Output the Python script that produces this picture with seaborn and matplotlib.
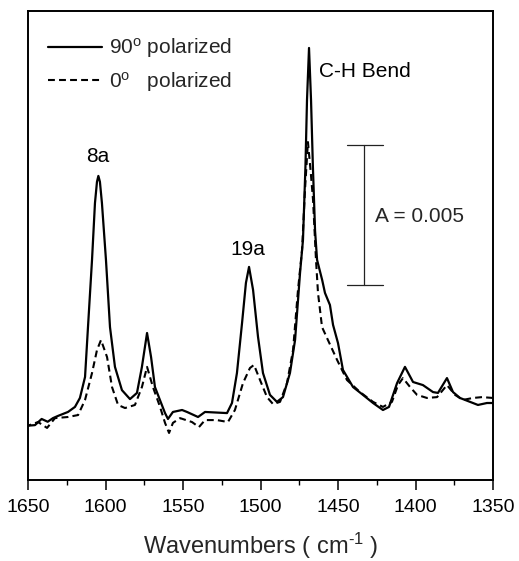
import matplotlib
matplotlib.use("Agg")
import matplotlib.pyplot as plt
import seaborn as sns
import pandas as pd
import numpy as np

# ---- data (absorbance in units of 1e-3, arbitrary baseline) ----
wn_90 = [1650.0, 1645.5, 1641.2, 1637.3, 1633.9, 1630.6, 1624.2, 1619.7, 1616.5, 1613.2,
         1611.3, 1608.7, 1606.8, 1605.5, 1604.6, 1603.6, 1602.3, 1599.7, 1597.1, 1593.9,
         1589.4, 1584.2, 1579.7, 1576.5, 1573.2, 1570.6, 1568.1, 1564.9, 1561.6, 1559.7,
         1556.5, 1550.6, 1547.4, 1540.3, 1535.8, 1521.6, 1518.4, 1515.2, 1511.9, 1509.4,
         1507.4, 1504.8, 1501.6, 1498.4, 1493.9, 1489.4, 1485.5, 1481.0, 1477.7, 1474.5,
         1472.6, 1471.0, 1470.0, 1468.7, 1467.4, 1466.2, 1464.8, 1463.5, 1460.2, 1458.4,
         1455.2, 1453.2, 1450.0, 1446.8, 1440.3, 1433.9, 1427.4, 1421.0, 1417.1, 1411.9,
         1406.8, 1401.6, 1395.2, 1388.7, 1385.5, 1379.7, 1375.8, 1371.3, 1364.8, 1359.7,
         1353.9, 1350.0]
abs_90 = [1.94, 1.96, 2.18, 2.08, 2.21, 2.29, 2.43, 2.61, 2.93, 3.68,
          5.46, 7.86, 9.89, 10.65, 10.86, 10.65, 9.89, 7.86, 5.46, 4.04,
          3.21, 2.89, 3.11, 4.04, 5.25, 4.39, 3.32, 2.86, 2.39, 2.18,
          2.43, 2.50, 2.43, 2.25, 2.43, 2.39, 2.75, 3.82, 5.61, 7.04,
          7.61, 6.79, 5.11, 3.82, 3.04, 2.79, 2.96, 3.82, 5.00, 7.39,
          8.57, 11.2, 13.57, 15.43, 13.57, 11.2, 8.9, 7.86, 7.14, 6.68,
          6.25, 5.54, 4.89, 3.93, 3.32, 3.04, 2.75, 2.50, 2.61, 3.46,
          4.04, 3.50, 3.39, 3.14, 3.11, 3.64, 3.14, 2.93, 2.79, 2.68,
          2.75, 2.75]

wn_0 = [1650.0, 1643.5, 1637.7, 1632.6, 1624.2, 1617.7, 1613.2, 1608.7, 1605.5, 1602.9,
        1599.0, 1595.8, 1591.9, 1587.4, 1581.0, 1576.5, 1573.2, 1569.4, 1564.8, 1561.6,
        1559.0, 1556.5, 1551.9, 1544.2, 1539.7, 1535.8, 1528.1, 1521.0, 1516.5, 1511.3,
        1506.8, 1504.2, 1500.3, 1495.8, 1491.9, 1487.4, 1482.9, 1479.0, 1475.8, 1473.2,
        1471.3, 1469.4, 1467.6, 1466.1, 1464.2, 1462.9, 1460.3, 1456.5, 1450.6, 1446.8,
        1444.2, 1435.8, 1427.4, 1421.0, 1415.2, 1411.3, 1408.1, 1403.5, 1399.0, 1392.6,
        1386.1, 1379.7, 1374.5, 1369.4, 1362.9, 1357.1, 1350.0]
abs_0 = [1.94, 2.07, 1.86, 2.21, 2.25, 2.32, 2.86, 3.82, 4.64, 5.00,
         4.39, 3.32, 2.68, 2.57, 2.68, 3.32, 4.04, 3.32, 2.61, 2.04,
         1.68, 2.04, 2.21, 2.07, 1.89, 2.14, 2.14, 2.07, 2.50, 3.46,
         4.00, 4.11, 3.57, 2.96, 2.71, 2.79, 3.46, 4.64, 6.79, 8.21,
         10.36, 12.07, 11.0, 10.0, 7.86, 6.68, 5.46, 5.00, 4.29, 3.86,
         3.57, 3.14, 2.79, 2.61, 2.79, 3.39, 3.64, 3.32, 3.04, 2.93,
         2.96, 3.39, 3.04, 2.86, 2.93, 2.96, 2.93]

series_labels = [r"90$^{\rm o}$ polarized", r"0$^{\rm o}$   polarized"]
xticks = [1650, 1600, 1550, 1500, 1450, 1400, 1350]
peak_labels = ["8a", "19a", "C-H Bend"]
peak_pos = [(1604.8, 11.36), (1508.1, 8.04), (1462.3, 14.39)]
scale_bar_x = 1433.2
scale_bar_y = (6.96, 11.96)
scale_text = "A = 0.005"

# ---- style ----
sns.set_theme(style="white")
plt.rcParams["font.family"] = ["Liberation Sans", "DejaVu Sans"]
plt.rcParams["mathtext.fontset"] = "custom"
plt.rcParams["mathtext.rm"] = "Liberation Sans"
plt.rcParams["mathtext.it"] = "Liberation Sans:italic"
plt.rcParams["mathtext.bf"] = "Liberation Sans:bold"

fig = plt.figure(figsize=(5.19, 5.61), dpi=100)
ax = fig.add_axes([28 / 519, 81 / 561, 465 / 519, 469 / 561])

df90 = pd.DataFrame({"wn": wn_90, "A": abs_90})
df0 = pd.DataFrame({"wn": wn_0, "A": abs_0})
sns.lineplot(data=df90, x="wn", y="A", ax=ax, color="black", lw=1.6,
             estimator=None, label=series_labels[0])
sns.lineplot(data=df0, x="wn", y="A", ax=ax, color="black", lw=1.5,
             estimator=None, linestyle=(0, (3.3, 2.0)), label=series_labels[1])

ax.set_xlim(1650, 1350)
ax.set_ylim(0, 16.75)
ax.set_yticks([])
ax.set_xticks(xticks)
ax.set_xticks(np.arange(1350, 1651, 25), minor=True)
ax.tick_params(axis="x", which="major", direction="out", length=7, width=1.1,
               labelsize=14, pad=7, bottom=True, colors="black")
ax.tick_params(axis="x", which="minor", direction="out", length=3.5, width=1.0,
               bottom=True, colors="black")
for s in ax.spines.values():
    s.set_visible(True)
    s.set_color("black")
    s.set_linewidth(1.4)

ax.set_xlabel(r"Wavenumbers ( cm$^{\text{-1}}$ )", fontsize=17, labelpad=10)
ax.set_ylabel("")

leg = ax.legend(loc="upper left", frameon=False, fontsize=15, handlelength=2.6,
                handletextpad=0.35, labelspacing=0.45, borderaxespad=0,
                bbox_to_anchor=(0.025, 0.964))

for lab, (x, y) in zip(peak_labels, peak_pos):
    ha = "left" if lab == "C-H Bend" else "center"
    ax.text(x, y, lab, fontsize=15, ha=ha, va="baseline", color="black")

# scale bar
ax.plot([scale_bar_x, scale_bar_x], list(scale_bar_y), color="#222222", lw=0.9)
for yy in scale_bar_y:
    ax.plot([scale_bar_x + 11, scale_bar_x - 12], [yy, yy], color="#222222", lw=0.9)
ax.text(1426.1, 9.21, scale_text, fontsize=15, ha="left", va="baseline")

fig.savefig("out.png", dpi=100)
